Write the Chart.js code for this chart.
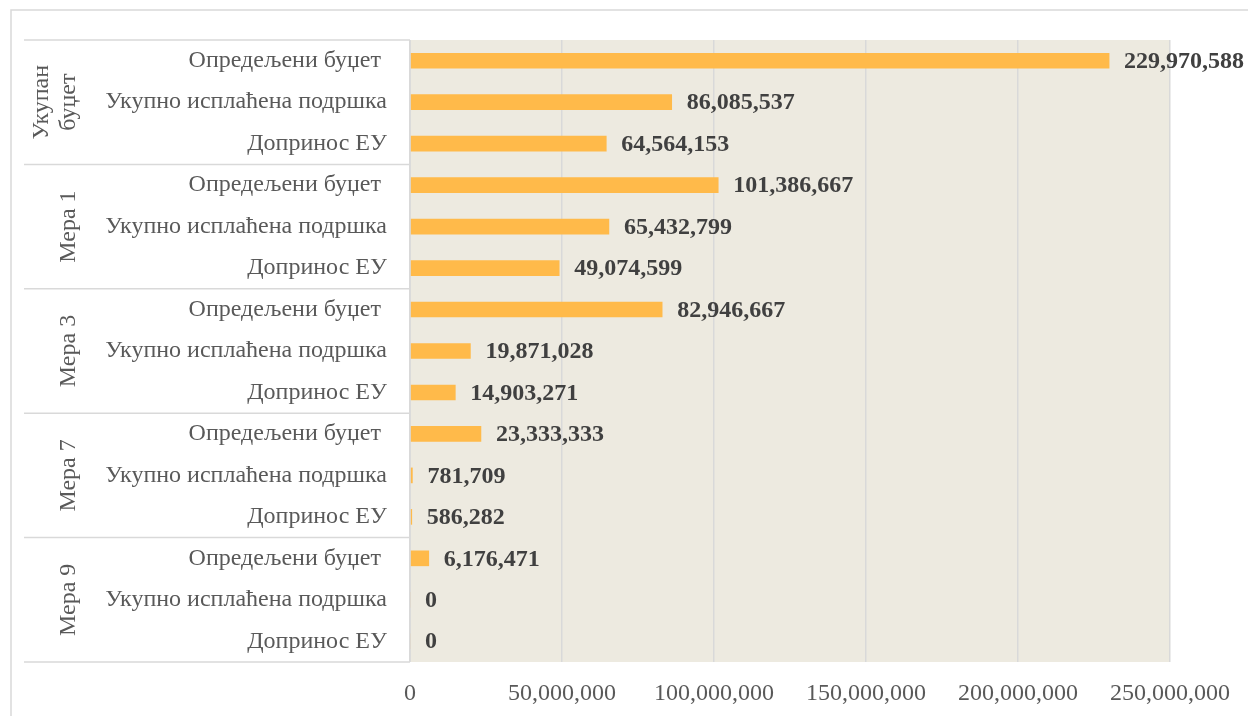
<!DOCTYPE html>
<html lang="sr">
<head>
    <meta charset="UTF-8">
    <title>Буџет по мерама</title>
    <style>
        html, body {
            margin: 0;
            padding: 0;
            background: #ffffff;
        }
        #wrap {
            width: 1248px;
            height: 716px;
            position: relative;
        }
    </style>
    <script src="https://cdn.jsdelivr.net/npm/chart.js"></script>
</head>
<body>
    <div id="wrap"><canvas id="budgetChart"></canvas></div>

    <script>
        // groups (outer axis level) and sub categories (inner level)
        const groups = ['Укупан буџет', 'Мера 1', 'Мера 3', 'Мера 7', 'Мера 9'];
        const groupLines = [['Укупан', 'буџет'], ['Мера 1'], ['Мера 3'], ['Мера 7'], ['Мера 9']];
        const subLabels = ['Опредељени буџет ', 'Укупно исплаћена подршка', 'Допринос ЕУ'];

        // values per group, in the order of subLabels
        const ukupanBudzet = [229970588, 86085537, 64564153];
        const mera1 = [101386667, 65432799, 49074599];
        const mera3 = [82946667, 19871028, 14903271];
        const mera7 = [23333333, 781709, 586282];
        const mera9 = [6176471, 0, 0];

        const xTicks = [0, 50000000, 100000000, 150000000, 200000000, 250000000];

        const labels = [];
        const values = [];
        [ukupanBudzet, mera1, mera3, mera7, mera9].forEach(g => {
            g.forEach((v, i) => {
                labels.push(subLabels[i]);
                values.push(v);
            });
        });

        const fmt = v => v.toLocaleString('en-US');
        const serif = '"Liberation Serif", "DejaVu Serif", serif';
        const lineColor = '#d9d9d9';

        const decorPlugin = {
            id: 'decor',
            beforeDraw(chart) {
                const ctx = chart.ctx;
                const a = chart.chartArea;
                ctx.save();
                // outer frame
                ctx.strokeStyle = lineColor;
                ctx.lineWidth = 1.5;
                ctx.beginPath();
                ctx.moveTo(11, chart.height);
                ctx.lineTo(11, 10);
                ctx.lineTo(chart.width, 10);
                ctx.stroke();
                // plot background
                ctx.fillStyle = '#edeae0';
                ctx.fillRect(a.left, a.top, a.right - a.left, a.bottom - a.top);
                ctx.restore();
            },
            afterDraw(chart) {
                const ctx = chart.ctx;
                const a = chart.chartArea;
                const step = (a.bottom - a.top) / labels.length;
                ctx.save();
                ctx.strokeStyle = lineColor;
                ctx.lineWidth = 1.5;
                ctx.beginPath();
                for (let k = 0; k <= groups.length; k++) {
                    const y = a.top + k * 3 * step;
                    ctx.moveTo(24, y);
                    ctx.lineTo(a.left, y);
                }
                ctx.moveTo(a.left, a.top);
                ctx.lineTo(a.left, a.bottom);
                ctx.stroke();

                // group labels, rotated
                ctx.fillStyle = '#595959';
                ctx.font = '24px ' + serif;
                ctx.textAlign = 'center';
                ctx.textBaseline = 'middle';
                groupLines.forEach((lines, k) => {
                    const cy = a.top + (k * 3 + 1.5) * step;
                    const xs = lines.length === 1 ? [69] : [42, 69];
                    lines.forEach((t, j) => {
                        ctx.save();
                        ctx.translate(xs[j], cy);
                        ctx.rotate(-Math.PI / 2);
                        ctx.fillText(t, 0, 0);
                        ctx.restore();
                    });
                });

                // data labels
                const meta = chart.getDatasetMeta(0);
                ctx.fillStyle = '#404040';
                ctx.font = 'bold 24px ' + serif;
                ctx.textAlign = 'left';
                meta.data.forEach((bar, i) => {
                    ctx.fillText(fmt(values[i]), bar.x + 15, bar.y + 1);
                });
                ctx.restore();
            }
        };

        new Chart(document.getElementById('budgetChart'), {
            type: 'bar',
            data: {
                labels: labels,
                datasets: [{
                    data: values,
                    backgroundColor: '#ffba4a',
                    barThickness: 15
                }]
            },
            options: {
                indexAxis: 'y',
                responsive: true,
                maintainAspectRatio: false,
                animation: false,
                layout: { padding: { top: 40, right: 78, left: 0, bottom: 0 } },
                plugins: {
                    legend: { display: false },
                    tooltip: { enabled: false }
                },
                scales: {
                    x: {
                        min: 0,
                        max: 250000000,
                        afterBuildTicks: scale => {
                            scale.ticks = xTicks.map(v => ({ value: v }));
                        },
                        afterFit: scale => { scale.height = 54; },
                        border: { display: false },
                        grid: { color: lineColor, lineWidth: 1.5, drawTicks: false },
                        ticks: {
                            padding: 17,
                            color: '#595959',
                            font: { family: serif, size: 24 },
                            callback: v => fmt(v)
                        }
                    },
                    y: {
                        afterFit: scale => { scale.width = 410; },
                        border: { display: false },
                        grid: { display: false },
                        ticks: {
                            padding: 15,
                            color: '#595959',
                            font: { family: serif, size: 24 }
                        }
                    }
                }
            },
            plugins: [decorPlugin]
        });
    </script>
</body>
</html>
